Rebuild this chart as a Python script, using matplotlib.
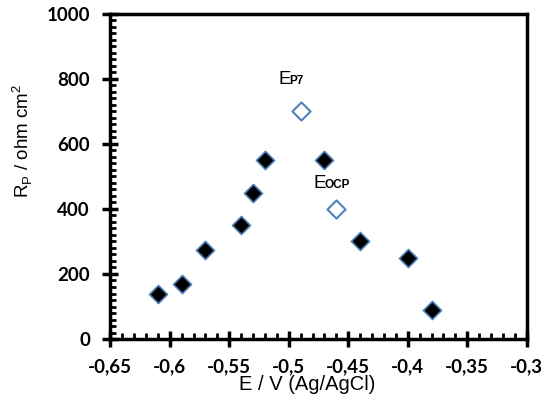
import matplotlib
matplotlib.use("Agg")
import matplotlib.pyplot as plt
from matplotlib.ticker import MultipleLocator, FuncFormatter

# Data
E_filled = [-0.61, -0.59, -0.57, -0.54, -0.53, -0.52, -0.47, -0.44, -0.40, -0.38]
Rp_filled = [140, 170, 275, 350, 450, 550, 550, 300, 250, 90]
E_open = [-0.49, -0.46]
Rp_open = [700, 400]
open_labels = ["P7", "OCP"]

edge = "#4F81BD"

fig = plt.figure(figsize=(5.51, 4.07), dpi=100)
ax = fig.add_axes([0.2, 0.167, 0.756, 0.799])

ax.scatter(E_filled, Rp_filled, marker="D", s=85, facecolor="black",
           edgecolor=edge, linewidth=1.2, zorder=3)
ax.scatter(E_open, Rp_open, marker="D", s=85, facecolor="white",
           edgecolor=edge, linewidth=1.5, zorder=3)

# point labels: "E" with bold subscript
label_offsets = [(-0.019, 85), (-0.0196, 65)]
for x, y, sub, (dx, dy) in zip(E_open, Rp_open, open_labels, label_offsets):
    ax.text(x + dx, y + dy, "E", fontsize=13.5, family="Liberation Sans",
            ha="left", va="baseline")
    ax.text(x + dx + 0.0098, y + dy, sub, fontsize=8.5, family="Liberation Sans",
            weight="bold", ha="left", va="baseline")

ax.set_xlim(-0.65, -0.3)
ax.set_ylim(0, 1000)
ax.xaxis.set_major_locator(MultipleLocator(0.05))
ax.xaxis.set_minor_locator(MultipleLocator(0.01))
ax.yaxis.set_major_locator(MultipleLocator(200))
ax.yaxis.set_minor_locator(MultipleLocator(20))

ax.xaxis.set_major_formatter(FuncFormatter(lambda v, p: ("%g" % round(v, 2)).replace(".", ",")))
ax.yaxis.set_major_formatter(FuncFormatter(lambda v, p: "%d" % v))

for s in ["top", "right", "bottom", "left"]:
    ax.spines[s].set_linewidth(2.5)
ax.tick_params(which="major", direction="inout", length=12, width=2.5,
               top=False, right=False)
ax.tick_params(axis="x", which="major", pad=7.5)
ax.tick_params(axis="y", which="major", pad=8.5)
ax.tick_params(which="minor", direction="in", length=4, width=2,
               top=False, right=False)
for lab in ax.get_xticklabels() + ax.get_yticklabels():
    lab.set_family("Lato")
    lab.set_weight("bold")
    lab.set_fontsize(13.5)

ax.set_xlabel("E / V (Ag/AgCl)", family="Liberation Sans", fontsize=14.5, labelpad=0)
ax.set_ylabel(r"R$_\mathregular{P}$ / ohm cm$^\mathregular{2}$", family="Liberation Sans",
              fontsize=13.5, labelpad=8)
ax.xaxis.label.set_x(0.472)
ax.yaxis.label.set_y(0.608)

fig.savefig("out.png", dpi=100)
